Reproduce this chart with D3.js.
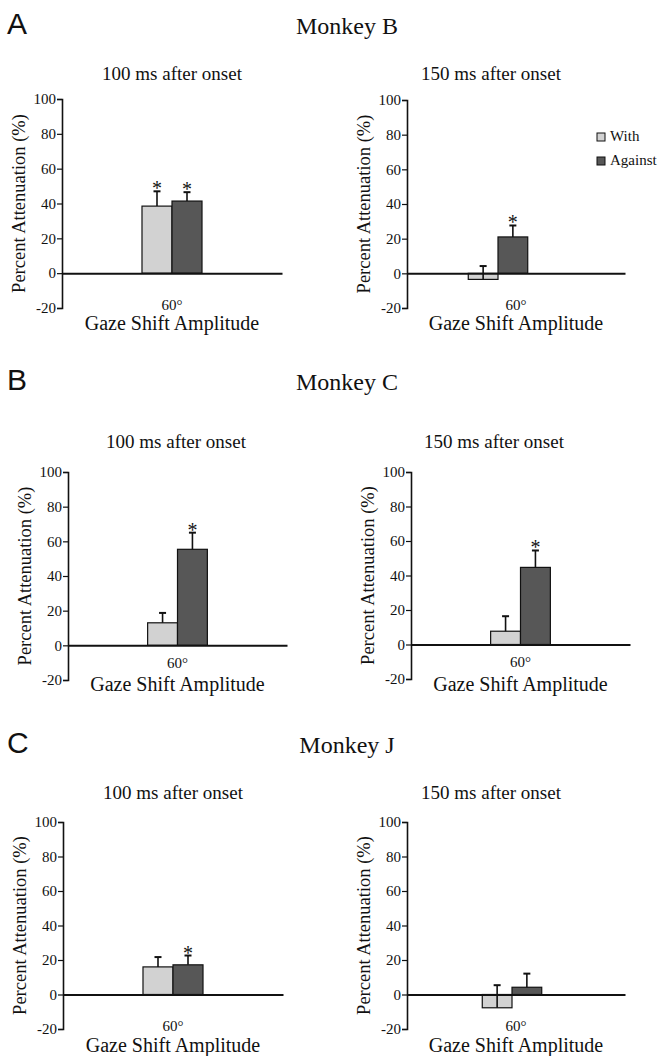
<!DOCTYPE html>
<html>
<head>
<meta charset="utf-8">
<script src="https://cdn.jsdelivr.net/npm/d3@7"></script>
<style>
  body { margin: 0; background: #fff; }
  svg text { font-family: "Liberation Serif", "Times New Roman", serif; fill: #111; }
</style>
</head>
<body>
<script>
// data, one entry per panel: A-100, A-150, B-100, B-150, C-100, C-150
var rowLetters = ["A", "B", "C"];
var monkeys = ["Monkey B", "Monkey C", "Monkey J"];
var times = ["100 ms after onset", "150 ms after onset"];
var series = ["With", "Against"];
var categories = ["60\u00b0"];
var tickValues = [-20, 0, 20, 40, 60, 80, 100];

var withVals    = [38.5, -3.5, 13.0,  7.7, 16.0, -7.7];
var withErr     = [ 8.5,  7.7,  5.7,  8.7,  5.7, 13.1];
var withSig     = [true, false, false, false, false, false];
var againstVals = [41.4, 21.0, 55.4, 44.7, 17.2,  4.2];
var againstErr  = [ 5.1,  6.6,  9.6,  9.8,  5.4,  7.9];
var againstSig  = [true, true, true, true, true, false];

var colors = {"With": "#d2d2d2", "Against": "#575757"};
var SERIF = "'Liberation Serif', 'Times New Roman', serif";

// where each panel sits on the page
var layout = [
  {x: 62,  x2: 282, top: 99,  bot: 308,  shift: 0,   tx: 172},
  {x: 407, x2: 625, top: 100, bot: 308,  shift: -18, tx: 491},
  {x: 68,  x2: 287, top: 472, bot: 680,  shift: 0,   tx: 176},
  {x: 411, x2: 630, top: 472, bot: 679,  shift: 0,   tx: 494},
  {x: 63,  x2: 283, top: 822, bot: 1029, shift: 0,   tx: 173},
  {x: 407, x2: 625, top: 822, bot: 1029, shift: -4,  tx: 491}
];
var rows = [
  {head: 34,  title: 80,  tick: 37, gaze: 57},
  {head: 390, title: 448, tick: 23, gaze: 46},
  {head: 753, title: 799, tick: 37, gaze: 57}
];

var width = 659, height = 1056;
var svg = d3.select("body").append("svg").attr("width", width).attr("height", height)
  .attr("font-family", SERIF);

function label(sel, size){
  return sel.style("font-family", SERIF).style("font-size", size + "px").attr("fill", "#111");
}

//// row headings ////
rows.forEach(function(r, i){
  svg.append("text").attr("x", 7).attr("y", r.head)
    .style("font-family", "'Liberation Sans', Arial, sans-serif")
    .style("font-size", "30px").attr("fill", "#111").text(rowLetters[i]);
  label(svg.append("text"), 24).attr("x", 347).attr("y", r.head)
    .attr("text-anchor", "middle").text(monkeys[i]);
});

//// panels ////
layout.forEach(function(p, i){
  var r = rows[Math.floor(i / 2)];
  var y = d3.scaleLinear().domain([-20, 100]).range([p.bot, p.top]);
  var x0 = d3.scaleBand().domain(categories).range([p.x, p.x2]).padding(0.5714);
  var x1 = d3.scaleBand().domain(series).range([0, x0.bandwidth()]);
  var g = svg.append("g");

  var bars = [
    {s: "With", v: withVals[i], e: withErr[i], sig: withSig[i]},
    {s: "Against", v: againstVals[i], e: againstErr[i], sig: againstSig[i]}
  ];

  // title
  label(g.append("text"), 19).attr("x", p.tx).attr("y", r.title)
    .attr("text-anchor", "middle").text(times[i % 2]);

  // bars
  var bx = function(d){ return x0(categories[0]) + p.shift + x1(d.s); };
  g.selectAll("rect.bar").data(bars).enter().append("rect").attr("class", "bar")
    .attr("x", bx)
    .attr("y", function(d){ return y(Math.max(0, d.v)); })
    .attr("width", x1.bandwidth())
    .attr("height", function(d){ return Math.abs(y(d.v) - y(0)); })
    .attr("fill", function(d){ return colors[d.s]; })
    .attr("stroke", "#111").attr("stroke-width", 1.2);

  // error bars (upper only)
  var cx = function(d){ return bx(d) + x1.bandwidth() / 2; };
  g.selectAll("line.err").data(bars).enter().append("line").attr("class", "err")
    .attr("x1", cx).attr("x2", cx)
    .attr("y1", function(d){ return y(d.v); })
    .attr("y2", function(d){ return y(d.v + d.e); })
    .attr("stroke", "#111").attr("stroke-width", 1.6);
  g.selectAll("line.cap").data(bars).enter().append("line").attr("class", "cap")
    .attr("x1", function(d){ return cx(d) - 3.5; })
    .attr("x2", function(d){ return cx(d) + 3.5; })
    .attr("y1", function(d){ return y(d.v + d.e); })
    .attr("y2", function(d){ return y(d.v + d.e); })
    .attr("stroke", "#111").attr("stroke-width", 2);

  // asterisks
  label(g.selectAll("text.sig").data(bars.filter(function(d){ return d.sig; })).enter()
    .append("text").attr("class", "sig"), 20)
    .attr("x", cx).attr("y", function(d){ return y(d.v + d.e) + 4; })
    .attr("text-anchor", "middle").text("*");

  // y axis
  var ya = g.append("g").attr("transform", "translate(" + p.x + ",0)")
    .call(d3.axisLeft(y).tickValues(tickValues).tickSize(5).tickPadding(1)
      .tickFormat(function(d){ return String(d); }));
  ya.attr("font-family", SERIF);
  ya.select(".domain").attr("stroke", "#111").attr("stroke-width", 1.6);
  ya.selectAll(".tick line").attr("stroke", "#111").attr("stroke-width", 1.2);
  label(ya.selectAll(".tick text"), 15);

  // x axis at zero
  var xa = g.append("g").attr("transform", "translate(0," + y(0) + ")")
    .call(d3.axisBottom(x0).tickSize(0).tickPadding(r.tick - 11));
  xa.attr("font-family", SERIF);
  xa.select(".domain").attr("stroke", "#111").attr("stroke-width", 2);
  label(xa.selectAll(".tick text"), 15);

  // axis titles
  label(g.append("text"), 18.5)
    .attr("transform", "translate(" + (p.x - 43) + "," + ((p.top + p.bot) / 2) + ") rotate(-90)")
    .attr("dy", "0.35em").attr("text-anchor", "middle").text("Percent Attenuation (%)");
  label(g.append("text"), 20).attr("x", (p.x + p.x2) / 2).attr("y", y(0) + r.gaze)
    .attr("text-anchor", "middle").text("Gaze Shift Amplitude");

  // legend only in the first 150 ms panel
  if (i === 1) {
    var lg = g.selectAll("g.leg").data(series).enter().append("g").attr("class", "leg")
      .attr("transform", function(d, k){ return "translate(597," + (133 + k * 24) + ")"; });
    lg.append("rect").attr("width", 8).attr("height", 8)
      .attr("fill", function(d){ return colors[d]; }).attr("stroke", "#111").attr("stroke-width", 1);
    label(lg.append("text"), 15).attr("x", 13).attr("y", 8).text(function(d){ return d; });
  }
});
</script>
</body>
</html>
